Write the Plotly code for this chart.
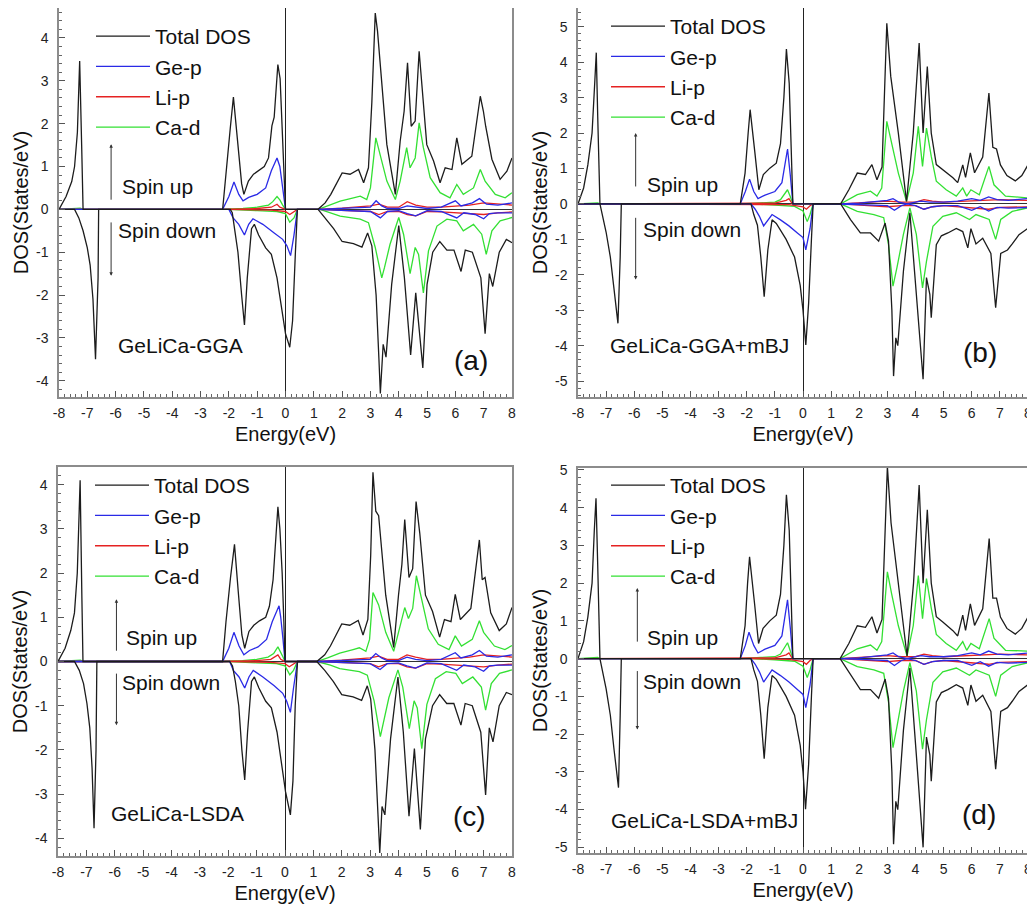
import plotly.graph_objects as go

# ---------------- DATA (energy eV, DOS states/eV) ----------------
# Panel (a) GeLiCa-GGA
a_total_up = [(-8.0,0),(-7.75,0.3),(-7.55,0.65),(-7.45,1.0),(-7.35,1.8),(-7.27,3.46),(-7.2,1.5),(-7.15,0),
 (-2.22,0),(-2.1,0.9),(-1.95,1.9),(-1.84,2.62),(-1.7,1.6),(-1.55,0.6),(-1.47,0.35),(-1.31,0.66),(-1.13,0.82),(-0.9,0.92),(-0.75,1.0),(-0.6,1.2),(-0.48,1.95),(-0.4,2.15),(-0.27,3.38),(-0.19,3.05),(-0.12,2.0),(-0.05,0.9),(0.0,0),
 (1.15,0),(1.4,0.15),(1.6,0.35),(1.8,0.6),(2.0,0.85),(2.28,0.82),(2.58,0.93),(2.76,0.62),(2.93,0.97),(3.05,2.5),(3.17,4.58),(3.25,4.16),(3.35,3.3),(3.58,1.51),(3.88,0.35),(4.05,1.59),(4.19,2.29),(4.31,3.42),(4.44,1.94),(4.58,2.06),(4.72,3.69),(4.81,2.91),(4.99,1.51),(5.23,1.13),(5.46,0.62),(5.64,0.97),(5.88,0.93),(6.05,1.67),(6.23,1.05),(6.58,1.24),(6.88,2.64),(6.99,2.29),(7.07,1.94),(7.29,1.17),(7.58,0.7),(7.82,0.89),(8.0,1.2)]
a_total_dn = [(-8.0,0),(-7.45,0),(-7.3,-0.2),(-7.15,-0.5),(-7.0,-0.9),(-6.9,-1.3),(-6.8,-2.1),(-6.71,-3.5),(-6.62,-1.6),(-6.6,0),
 (-1.95,0),(-1.88,-0.08),(-1.8,-0.45),(-1.68,-1.0),(-1.55,-2.0),(-1.45,-2.7),(-1.35,-1.6),(-1.2,-0.45),(-1.1,-0.35),(-0.95,-0.6),(-0.7,-0.9),(-0.5,-1.05),(-0.3,-1.6),(-0.15,-2.3),(0.0,-2.9),(0.15,-3.22),(0.25,-2.6),(0.35,-1.0),(0.42,0),
 (1.15,0),(1.4,-0.2),(1.7,-0.45),(2.0,-0.75),(2.4,-0.8),(2.7,-0.88),(2.9,-0.55),(3.05,-0.85),(3.2,-2.0),(3.3,-3.5),(3.35,-4.3),(3.45,-3.15),(3.55,-3.45),(3.75,-1.75),(4.0,-0.38),(4.2,-1.6),(4.42,-3.4),(4.6,-1.95),(4.85,-3.7),(5.0,-1.75),(5.2,-1.0),(5.45,-0.75),(5.7,-0.95),(5.95,-0.95),(6.2,-1.45),(6.35,-0.95),(6.6,-1.0),(6.9,-1.6),(7.05,-2.9),(7.2,-1.5),(7.32,-1.8),(7.55,-1.0),(7.8,-0.7),(8.0,-0.78)]
a_gep_up = [(-8,0),(-2.22,0),(-2.0,0.3),(-1.82,0.64),(-1.65,0.35),(-1.5,0.2),(-1.3,0.28),(-1.0,0.35),(-0.7,0.5),(-0.5,0.9),(-0.3,1.2),(-0.2,1.0),(-0.1,0.5),(0.0,0),
 (1.15,0),(2.0,0.02),(3.0,0.05),(3.2,0.2),(3.4,0.08),(3.6,0.02),(4.0,0.02),(4.3,0.08),(4.6,0.05),(5.0,0.02),(5.5,0.05),(6.0,0.2),(6.2,0.08),(6.6,0.15),(6.85,0.25),(7.1,0.12),(7.5,0.1),(8.0,0.15)]
a_gep_dn = [(-8,0),(-2.0,0),(-1.85,-0.2),(-1.65,-0.35),(-1.45,-0.6),(-1.3,-0.35),(-1.15,-0.22),(-0.8,-0.35),(-0.4,-0.55),(-0.1,-0.7),(0.05,-0.85),(0.18,-1.08),(0.3,-0.6),(0.42,0),
 (1.15,0),(2.0,-0.02),(3.0,-0.05),(3.35,-0.2),(3.6,-0.05),(4.0,-0.03),(4.3,-0.1),(4.6,-0.15),(5.0,-0.03),(5.5,-0.05),(6.05,-0.2),(6.3,-0.08),(6.7,-0.12),(7.0,-0.22),(7.2,-0.1),(7.5,-0.08),(8.0,-0.08)]
a_lip_up = [(-8,0),(-2.2,0),(-1.0,0.02),(-0.5,0.05),(-0.3,0.12),(-0.2,0.05),(0.0,0),
 (1.15,0),(2.0,0.03),(3.0,0.08),(3.3,0.12),(3.6,0.05),(4.0,0.05),(4.3,0.18),(4.6,0.1),(5.0,0.05),(5.5,0.05),(6.0,0.08),(6.5,0.1),(7.0,0.15),(7.5,0.12),(8.0,0.1)]
a_lip_dn = [(-8,0),(-2.0,0),(-0.5,-0.02),(0.0,-0.05),(0.15,-0.12),(0.3,-0.05),(0.42,0),
 (1.15,0),(2.0,-0.03),(3.0,-0.05),(3.3,-0.12),(3.6,-0.05),(4.0,-0.05),(4.3,-0.12),(4.6,-0.15),(5.0,-0.05),(5.5,-0.06),(6.0,-0.08),(6.5,-0.1),(7.0,-0.12),(7.5,-0.08),(8.0,-0.06)]
a_cad_up = [(-8,0),(-7.6,0.02),(-7.25,0.03),(-7.15,0),(-2.2,0),(-1.5,0.02),(-1.0,0.05),(-0.6,0.1),(-0.45,0.18),(-0.3,0.3),(-0.2,0.22),(-0.1,0.1),(0.0,0),
 (1.16,0),(1.5,0.08),(1.93,0.19),(2.4,0.27),(2.64,0.31),(2.87,0.23),(3.0,0.5),(3.19,1.67),(3.35,1.28),(3.58,0.66),(3.88,0.23),(4.05,0.66),(4.28,1.44),(4.40,0.97),(4.58,1.2),(4.72,2.02),(4.87,1.44),(5.11,0.74),(5.46,0.39),(5.81,0.27),(6.05,0.58),(6.28,0.35),(6.64,0.5),(6.88,0.93),(7.05,0.66),(7.41,0.35),(7.76,0.27),(8.0,0.39)]
a_cad_dn = [(-8,0),(-2.0,0),(-1.0,-0.03),(-0.3,-0.05),(0.0,-0.1),(0.15,-0.3),(0.3,-0.2),(0.42,0),
 (1.22,0),(1.6,-0.08),(1.93,-0.16),(2.64,-0.23),(2.93,-0.31),(3.17,-0.89),(3.4,-1.6),(3.5,-1.35),(3.69,-0.82),(4.0,-0.19),(4.17,-0.58),(4.4,-1.5),(4.58,-0.89),(4.7,-1.05),(4.87,-1.95),(5.05,-0.97),(5.35,-0.39),(5.7,-0.23),(6.05,-0.27),(6.28,-0.5),(6.64,-0.35),(6.93,-0.58),(7.09,-1.05),(7.29,-0.5),(7.58,-0.27),(8.0,-0.19)]

# Panel (b) GeLiCa-GGA+mBJ
b_total_up = [(-8,0),(-7.8,0.45),(-7.65,1.1),(-7.5,2.0),(-7.4,3.5),(-7.35,4.27),(-7.3,2.5),(-7.22,0),
 (-2.23,0),(-2.06,0.87),(-1.95,2.0),(-1.88,2.66),(-1.71,1.44),(-1.57,0.4),(-1.41,0.83),(-1.18,1.01),(-0.95,1.15),(-0.8,1.7),(-0.68,3.0),(-0.59,4.37),(-0.49,3.4),(-0.42,1.5),(-0.36,0),
 (1.34,0),(1.63,0.4),(1.93,0.87),(2.22,0.83),(2.45,1.11),(2.63,0.68),(2.81,1.04),(2.98,5.1),(3.12,3.6),(3.39,2.0),(3.68,0.07),(3.92,2.0),(4.13,4.54),(4.27,2.0),(4.42,3.88),(4.56,2.0),(4.74,1.11),(4.97,0.97),(5.33,0.74),(5.5,0.6),(5.68,1.1),(5.78,0.75),(5.95,1.44),(6.1,0.88),(6.39,1.32),(6.61,3.13),(6.75,1.6),(6.88,1.55),(7.02,1.1),(7.25,0.8),(7.55,0.65),(7.78,0.8),(8.0,1.1)]
b_total_dn = [(-8,0),(-7.22,0),(-7.0,-0.8),(-6.85,-1.5),(-6.72,-2.4),(-6.58,-3.37),(-6.5,-1.5),(-6.46,0),
 (-1.85,0),(-1.75,-0.3),(-1.62,-0.6),(-1.5,-1.5),(-1.38,-2.62),(-1.25,-1.3),(-1.1,-0.45),(-0.95,-0.55),(-0.6,-1.0),(-0.3,-1.5),(-0.1,-2.3),(0.0,-3.0),(0.1,-3.98),(0.2,-2.8),(0.3,-1.0),(0.36,0),
 (1.34,0),(1.69,-0.44),(2.04,-0.82),(2.4,-0.82),(2.69,-1.05),(2.92,-0.54),(3.04,-1.05),(3.16,-3.0),(3.22,-4.86),(3.3,-3.78),(3.37,-4.0),(3.57,-1.9),(3.8,-0.25),(4.03,-2.55),(4.27,-4.95),(4.39,-2.08),(4.51,-2.55),(4.56,-3.21),(4.74,-1.15),(4.92,-0.9),(5.15,-0.82),(5.45,-0.69),(5.68,-0.78),(5.86,-1.24),(5.97,-0.7),(6.15,-1.13),(6.39,-0.97),(6.68,-1.4),(6.85,-2.93),(7.03,-1.4),(7.27,-1.3),(7.44,-1.13),(7.68,-0.87),(8.0,-0.69)]
b_gep_up = [(-8,0),(-2.23,0),(-2.05,0.35),(-1.9,0.7),(-1.75,0.35),(-1.6,0.15),(-1.35,0.25),(-1.0,0.35),(-0.75,0.6),(-0.55,1.55),(-0.45,0.8),(-0.36,0),
 (1.34,0),(2.0,0.02),(3.0,0.1),(3.2,0.15),(3.4,0.05),(3.7,0.0),(4.0,0.05),(4.2,0.08),(4.5,0.05),(5.0,0.05),(5.5,0.08),(6.0,0.15),(6.3,0.1),(6.6,0.2),(6.9,0.12),(7.3,0.1),(8.0,0.15)]
b_gep_dn = [(-8,0),(-1.85,0),(-1.7,-0.15),(-1.55,-0.35),(-1.4,-0.62),(-1.25,-0.45),(-1.1,-0.3),(-0.8,-0.45),(-0.5,-0.62),(-0.2,-0.82),(0.0,-0.95),(0.1,-1.3),(0.25,-0.7),(0.36,0),
 (1.34,0),(2.0,-0.02),(3.0,-0.05),(3.25,-0.18),(3.5,-0.05),(3.7,0.0),(4.0,-0.05),(4.3,-0.15),(4.6,-0.08),(5.0,-0.05),(5.5,-0.05),(6.0,-0.18),(6.3,-0.08),(6.6,-0.2),(6.9,-0.1),(7.3,-0.12),(8.0,-0.1)]
b_lip_up = [(-8,0),(-2.23,0),(-1.0,0.02),(-0.6,0.1),(-0.5,0.15),(-0.42,0.05),(-0.36,0),
 (1.34,0),(2.0,0.03),(3.0,0.08),(3.5,0.05),(4.0,0.05),(4.3,0.12),(4.6,0.08),(5.0,0.05),(6.0,0.08),(6.5,0.1),(7.0,0.12),(8.0,0.1)]
b_lip_dn = [(-8,0),(-1.85,0),(-0.5,-0.02),(0.0,-0.08),(0.12,-0.15),(0.25,-0.05),(0.36,0),
 (1.34,0),(2.0,-0.03),(3.0,-0.08),(3.5,-0.05),(4.0,-0.05),(4.3,-0.15),(4.6,-0.08),(5.0,-0.05),(6.0,-0.1),(6.6,-0.15),(7.0,-0.1),(8.0,-0.08)]
b_cad_up = [(-8,0),(-7.6,0.02),(-7.3,0.03),(-7.22,0),(-2.23,0),(-1.5,0.03),(-1.0,0.05),(-0.8,0.12),(-0.65,0.3),(-0.55,0.4),(-0.45,0.2),(-0.36,0),
 (1.34,0),(1.93,0.26),(2.4,0.36),(2.63,0.22),(2.8,0.45),(2.98,2.33),(3.15,1.72),(3.39,0.87),(3.68,0.07),(3.92,0.87),(4.1,2.19),(4.25,1.06),(4.39,2.14),(4.56,1.34),(4.74,0.64),(5.09,0.4),(5.45,0.22),(5.68,0.45),(5.82,0.22),(5.97,0.4),(6.27,0.26),(6.61,1.06),(6.79,0.54),(7.2,0.22),(8.0,0.17)]
b_cad_dn = [(-8,0),(-1.85,0),(-1.0,-0.03),(-0.3,-0.07),(0.0,-0.2),(0.15,-0.5),(0.25,-0.3),(0.36,0),
 (1.34,0),(1.93,-0.21),(2.52,-0.3),(2.87,-0.39),(3.04,-1.15),(3.2,-2.32),(3.34,-1.8),(3.57,-0.86),(3.8,-0.11),(4.03,-0.86),(4.25,-2.37),(4.39,-1.62),(4.62,-0.63),(4.97,-0.35),(5.45,-0.25),(5.92,-0.44),(6.15,-0.3),(6.62,-0.44),(6.85,-1.0),(7.03,-0.44),(7.44,-0.21),(8.0,-0.11)]

# Panel (c) GeLiCa-LSDA
c_total_up = [(-8.0,0),(-7.75,0.3),(-7.55,0.7),(-7.42,1.1),(-7.32,2.0),(-7.22,4.1),(-7.16,1.5),(-7.12,0),
 (-2.2,0),(-2.08,0.9),(-1.92,1.9),(-1.78,2.65),(-1.65,1.6),(-1.52,0.6),(-1.42,0.3),(-1.27,0.68),(-1.1,0.82),(-0.9,0.92),(-0.68,1.0),(-0.55,1.25),(-0.42,1.85),(-0.35,2.6),(-0.25,3.5),(-0.18,3.0),(-0.1,2.0),(-0.04,0.9),(0.0,0),
 (1.12,0),(1.4,0.15),(1.6,0.35),(1.8,0.6),(2.0,0.85),(2.28,0.82),(2.58,0.93),(2.75,0.6),(2.92,0.95),(3.02,2.4),(3.1,4.28),(3.2,3.4),(3.3,3.3),(3.55,1.5),(3.83,0.32),(4.0,1.5),(4.12,2.2),(4.22,3.21),(4.37,1.9),(4.5,2.1),(4.62,3.62),(4.75,2.9),(4.95,1.5),(5.2,1.13),(5.45,0.55),(5.62,0.95),(5.85,0.9),(6.0,1.52),(6.18,0.95),(6.55,1.2),(6.85,2.75),(6.95,1.85),(7.05,1.9),(7.25,1.1),(7.55,0.7),(7.8,0.85),(8.0,1.22)]
c_total_dn = [(-8.0,0),(-7.42,0),(-7.25,-0.2),(-7.1,-0.5),(-6.98,-0.95),(-6.88,-1.5),(-6.8,-2.4),(-6.73,-3.77),(-6.66,-2.0),(-6.63,0),
 (-1.95,0),(-1.85,-0.1),(-1.75,-0.45),(-1.63,-1.0),(-1.52,-2.0),(-1.42,-2.68),(-1.32,-1.6),(-1.18,-0.45),(-1.08,-0.35),(-0.92,-0.6),(-0.68,-0.9),(-0.48,-1.05),(-0.28,-1.6),(-0.12,-2.35),(0.02,-2.95),(0.19,-3.47),(0.28,-2.7),(0.36,-1.0),(0.44,0),
 (1.12,0),(1.4,-0.2),(1.7,-0.45),(2.0,-0.75),(2.4,-0.8),(2.7,-0.88),(2.9,-0.55),(3.02,-0.85),(3.17,-2.0),(3.28,-3.5),(3.34,-4.33),(3.42,-3.28),(3.52,-3.47),(3.72,-1.75),(3.98,-0.35),(4.17,-1.6),(4.37,-3.5),(4.56,-1.97),(4.77,-3.8),(4.95,-1.75),(5.2,-1.0),(5.45,-0.75),(5.7,-0.95),(5.95,-0.95),(6.2,-1.44),(6.35,-0.95),(6.6,-1.0),(6.9,-1.6),(7.07,-3.02),(7.2,-1.5),(7.33,-1.82),(7.55,-1.0),(7.8,-0.7),(8.0,-0.75)]
c_gep_up = [(-8,0),(-2.2,0),(-1.98,0.3),(-1.8,0.66),(-1.62,0.35),(-1.45,0.15),(-1.25,0.25),(-0.95,0.33),(-0.65,0.5),(-0.45,0.9),(-0.21,1.26),(-0.15,1.0),(-0.07,0.5),(0.0,0),
 (1.12,0),(2.0,0.02),(3.0,0.05),(3.2,0.18),(3.4,0.08),(3.6,0.02),(4.0,0.02),(4.3,0.1),(4.6,0.05),(5.0,0.02),(5.5,0.05),(6.0,0.2),(6.2,0.08),(6.6,0.15),(6.85,0.25),(7.1,0.12),(7.5,0.1),(8.0,0.15)]
c_gep_dn = [(-8,0),(-1.95,0),(-1.82,-0.2),(-1.62,-0.35),(-1.42,-0.6),(-1.27,-0.35),(-1.12,-0.2),(-0.78,-0.35),(-0.38,-0.55),(-0.08,-0.72),(0.06,-0.9),(0.19,-1.15),(0.3,-0.6),(0.44,0),
 (1.12,0),(2.0,-0.02),(3.0,-0.05),(3.35,-0.18),(3.6,-0.05),(4.0,-0.03),(4.3,-0.1),(4.6,-0.15),(5.0,-0.03),(5.5,-0.05),(6.05,-0.2),(6.3,-0.08),(6.7,-0.12),(7.0,-0.22),(7.2,-0.1),(7.5,-0.08),(8.0,-0.08)]
c_lip_up = [(-8,0),(-2.2,0),(-1.0,0.02),(-0.5,0.05),(-0.25,0.15),(-0.15,0.05),(0.0,0),
 (1.12,0),(2.0,0.03),(3.0,0.08),(3.3,0.12),(3.6,0.05),(4.0,0.05),(4.3,0.15),(4.6,0.1),(5.0,0.05),(5.5,0.05),(6.0,0.08),(6.5,0.1),(7.0,0.15),(7.5,0.12),(8.0,0.1)]
c_lip_dn = [(-8,0),(-1.95,0),(-0.5,-0.02),(0.0,-0.05),(0.15,-0.12),(0.3,-0.05),(0.44,0),
 (1.12,0),(2.0,-0.03),(3.0,-0.05),(3.3,-0.12),(3.6,-0.05),(4.0,-0.05),(4.3,-0.12),(4.6,-0.15),(5.0,-0.05),(5.5,-0.06),(6.0,-0.08),(6.5,-0.1),(7.0,-0.12),(7.5,-0.08),(8.0,-0.06)]
c_cad_up = [(-8,0),(-7.6,0.02),(-7.2,0.03),(-7.12,0),(-2.2,0),(-1.5,0.02),(-1.0,0.05),(-0.6,0.1),(-0.4,0.18),(-0.25,0.33),(-0.15,0.22),(-0.07,0.1),(0.0,0),
 (1.12,0),(1.5,0.08),(1.93,0.19),(2.4,0.27),(2.62,0.31),(2.85,0.23),(2.98,0.5),(3.1,1.56),(3.3,1.28),(3.55,0.66),(3.83,0.23),(4.0,0.66),(4.22,1.22),(4.35,0.97),(4.5,1.2),(4.63,1.94),(4.8,1.44),(5.05,0.74),(5.4,0.39),(5.78,0.27),(6.0,0.58),(6.22,0.35),(6.6,0.5),(6.85,0.92),(7.0,0.66),(7.38,0.35),(7.75,0.27),(8.0,0.36)]
c_cad_dn = [(-8,0),(-1.95,0),(-1.0,-0.03),(-0.3,-0.05),(0.0,-0.1),(0.17,-0.3),(0.3,-0.2),(0.44,0),
 (1.12,0),(1.6,-0.08),(1.93,-0.16),(2.62,-0.23),(2.9,-0.31),(3.14,-0.89),(3.36,-1.7),(3.47,-1.35),(3.66,-0.82),(3.98,-0.19),(4.15,-0.58),(4.38,-1.52),(4.55,-0.89),(4.66,-1.05),(4.82,-1.97),(5.0,-0.97),(5.3,-0.39),(5.68,-0.23),(6.02,-0.27),(6.25,-0.5),(6.62,-0.35),(6.92,-0.58),(7.07,-1.1),(7.27,-0.5),(7.56,-0.27),(8.0,-0.19)]

# Panel (d) GeLiCa-LSDA+mBJ
d_total_up = [(-8,0),(-7.8,0.45),(-7.65,1.1),(-7.5,2.0),(-7.42,3.4),(-7.36,4.25),(-7.3,2.5),(-7.22,0),
 (-2.23,0),(-2.06,0.87),(-1.97,2.0),(-1.9,2.7),(-1.72,1.44),(-1.58,0.4),(-1.42,0.8),(-1.18,1.0),(-0.95,1.15),(-0.8,1.7),(-0.68,3.0),(-0.59,4.34),(-0.49,3.4),(-0.42,1.5),(-0.36,0),
 (1.32,0),(1.63,0.4),(1.93,0.87),(2.22,0.83),(2.45,1.11),(2.63,0.68),(2.81,1.04),(3.0,5.09),(3.13,3.6),(3.4,2.0),(3.7,0.07),(3.93,2.0),(4.13,4.6),(4.27,2.0),(4.42,3.94),(4.56,2.0),(4.74,1.11),(4.97,0.97),(5.33,0.74),(5.5,0.6),(5.68,1.15),(5.78,0.75),(5.95,1.45),(6.1,0.88),(6.39,1.32),(6.62,3.18),(6.75,1.6),(6.88,1.6),(7.02,1.1),(7.25,0.8),(7.55,0.65),(7.78,0.8),(8.0,1.1)]
d_total_dn = [(-8,0),(-7.22,0),(-7.0,-0.8),(-6.85,-1.5),(-6.72,-2.4),(-6.56,-3.42),(-6.5,-1.5),(-6.46,0),
 (-1.85,0),(-1.75,-0.3),(-1.62,-0.6),(-1.5,-1.5),(-1.38,-2.65),(-1.25,-1.3),(-1.1,-0.45),(-0.95,-0.55),(-0.6,-1.0),(-0.3,-1.5),(-0.1,-2.3),(0.0,-3.0),(0.09,-3.99),(0.2,-2.8),(0.3,-1.0),(0.36,0),
 (1.32,0),(1.69,-0.44),(2.04,-0.82),(2.4,-0.82),(2.69,-1.05),(2.92,-0.54),(3.04,-1.05),(3.16,-3.0),(3.22,-4.92),(3.3,-3.78),(3.37,-4.0),(3.57,-1.9),(3.8,-0.25),(4.03,-2.55),(4.27,-5.0),(4.39,-2.08),(4.51,-2.55),(4.56,-3.25),(4.74,-1.15),(4.92,-0.9),(5.15,-0.82),(5.45,-0.69),(5.68,-0.78),(5.86,-1.24),(5.97,-0.7),(6.15,-1.13),(6.39,-0.97),(6.68,-1.4),(6.85,-2.93),(7.03,-1.4),(7.27,-1.3),(7.44,-1.13),(7.68,-0.87),(8.0,-0.69)]
d_gep_up = [(-8,0),(-2.23,0),(-2.05,0.35),(-1.92,0.7),(-1.75,0.35),(-1.6,0.15),(-1.35,0.25),(-1.0,0.35),(-0.75,0.6),(-0.55,1.56),(-0.45,0.8),(-0.36,0),
 (1.32,0),(2.0,0.02),(3.0,0.1),(3.2,0.15),(3.4,0.05),(3.7,0.0),(4.0,0.05),(4.2,0.08),(4.5,0.05),(5.0,0.05),(5.5,0.08),(6.0,0.15),(6.3,0.1),(6.6,0.2),(6.9,0.12),(7.3,0.1),(8.0,0.15)]
d_gep_dn = [(-8,0),(-1.85,0),(-1.7,-0.15),(-1.55,-0.35),(-1.4,-0.62),(-1.25,-0.45),(-1.1,-0.3),(-0.8,-0.45),(-0.5,-0.62),(-0.2,-0.82),(0.0,-0.95),(0.1,-1.3),(0.25,-0.7),(0.36,0),
 (1.32,0),(2.0,-0.02),(3.0,-0.05),(3.25,-0.18),(3.5,-0.05),(3.7,0.0),(4.0,-0.05),(4.3,-0.15),(4.6,-0.08),(5.0,-0.05),(5.5,-0.05),(6.0,-0.18),(6.3,-0.08),(6.6,-0.2),(6.9,-0.1),(7.3,-0.12),(8.0,-0.1)]
d_lip_up = [(-8,0),(-2.23,0),(-1.0,0.02),(-0.6,0.1),(-0.5,0.15),(-0.42,0.05),(-0.36,0),
 (1.32,0),(2.0,0.03),(3.0,0.08),(3.5,0.05),(4.0,0.05),(4.3,0.12),(4.6,0.08),(5.0,0.05),(6.0,0.08),(6.5,0.1),(7.0,0.12),(8.0,0.1)]
d_lip_dn = [(-8,0),(-1.85,0),(-0.5,-0.02),(0.0,-0.08),(0.12,-0.15),(0.25,-0.05),(0.36,0),
 (1.32,0),(2.0,-0.03),(3.0,-0.08),(3.5,-0.05),(4.0,-0.05),(4.3,-0.15),(4.6,-0.08),(5.0,-0.05),(6.0,-0.1),(6.6,-0.15),(7.0,-0.1),(8.0,-0.08)]
d_cad_up = [(-8,0),(-7.6,0.02),(-7.3,0.03),(-7.22,0),(-2.23,0),(-1.5,0.03),(-1.0,0.05),(-0.8,0.12),(-0.65,0.3),(-0.55,0.42),(-0.45,0.2),(-0.36,0),
 (1.32,0),(1.93,0.26),(2.4,0.36),(2.63,0.22),(2.8,0.45),(3.0,2.3),(3.15,1.72),(3.39,0.87),(3.7,0.07),(3.92,0.87),(4.1,2.2),(4.25,1.06),(4.39,2.12),(4.56,1.34),(4.74,0.64),(5.09,0.4),(5.45,0.22),(5.68,0.45),(5.82,0.22),(5.97,0.4),(6.27,0.26),(6.62,1.06),(6.79,0.54),(7.2,0.22),(8.0,0.2)]
d_cad_dn = [(-8,0),(-1.85,0),(-1.0,-0.03),(-0.3,-0.07),(0.0,-0.2),(0.15,-0.5),(0.25,-0.3),(0.36,0),
 (1.32,0),(1.93,-0.21),(2.52,-0.3),(2.87,-0.39),(3.04,-1.15),(3.2,-2.36),(3.34,-1.8),(3.57,-0.86),(3.8,-0.11),(4.03,-0.86),(4.25,-2.4),(4.39,-1.62),(4.62,-0.63),(4.97,-0.35),(5.45,-0.25),(5.92,-0.44),(6.15,-0.3),(6.62,-0.44),(6.85,-1.0),(7.03,-0.44),(7.44,-0.21),(8.0,-0.11)]

series_names = ["Total DOS", "Ge-p", "Li-p", "Ca-d"]
series_colors = ["#1c1c1c", "#2a2ae6", "#e52222", "#33e033"]
panel_labels = ["(a)", "(b)", "(c)", "(d)"]
panel_methods = ["GeLiCa-GGA", "GeLiCa-GGA+mBJ", "GeLiCa-LSDA", "GeLiCa-LSDA+mBJ"]
x_ticks = list(range(-8, 9))
y_ticks_ac = list(range(-4, 5))
y_ticks_bd = list(range(-5, 6))

panel_data = [
    [(a_total_up, a_total_dn), (a_gep_up, a_gep_dn), (a_lip_up, a_lip_dn), (a_cad_up, a_cad_dn)],
    [(b_total_up, b_total_dn), (b_gep_up, b_gep_dn), (b_lip_up, b_lip_dn), (b_cad_up, b_cad_dn)],
    [(c_total_up, c_total_dn), (c_gep_up, c_gep_dn), (c_lip_up, c_lip_dn), (c_cad_up, c_cad_dn)],
    [(d_total_up, d_total_dn), (d_gep_up, d_gep_dn), (d_lip_up, d_lip_dn), (d_cad_up, d_cad_dn)],
]

# ---------------- LAYOUT GEOMETRY ----------------
PAGE_W, PAGE_H = 1035, 918
OFF = 8  # default page body margin
W, H = PAGE_W - OFF, PAGE_H - OFF
FONT = "Liberation Sans, Arial, sans-serif"
# pixel boxes of each panel in page pixels: (left, right, top, bottom)
boxes = [(59, 512, 8, 397), (578, 1028, 8, 397), (58, 512, 467, 856), (578, 1028, 468, 853)]
y_ranges = [(-4.38, 4.7), (-5.45, 5.53), (-4.4, 4.4), (-5.15, 5.05)]
legend_pos = [(91, 16), (606, 6), (90, 465), (606, 465)]
# annotation placement in data coords
spin_up_arrow = [(-6.16, 0.19, 1.52), (-5.95, 0.45, 2.0), (-5.94, 0.21, 1.41), (-5.89, 0.41, 1.87)]
spin_dn_arrow = [(-6.16, -0.27, -1.55), (-5.95, -0.35, -2.13), (-5.94, -0.24, -1.44), (-5.89, -0.29, -1.88)]
spin_up_txt = [(-5.84, 0.54), (-5.63, 0.54), (-5.69, 0.55), (-5.61, 0.55)]
spin_dn_txt = [(-5.99, -0.5), (-5.77, -0.72), (-5.8, -0.47), (-5.75, -0.6)]
method_txt = [(-5.99, -3.18), (-6.95, -4.01), (-6.2, -3.43), (-6.9, -4.3)]
label_txt = [(6.55, -3.53), (6.3, -4.18), (6.51, -3.5), (6.26, -4.13)]


def clamp(v):
    return min(1.0, max(0.0, v))


fig = go.Figure()
layout = dict(width=W, height=H, margin=dict(l=0, r=0, t=0, b=0, pad=0, autoexpand=False),
              paper_bgcolor="white", plot_bgcolor="white",
              font=dict(family=FONT, color="#111"), showlegend=True)
annotations = []

for p in range(4):
    sfx = "" if p == 0 else str(p + 1)
    xa, ya = "x" + sfx, "y" + sfx
    lg = "legend" + sfx
    l, r, t, b = boxes[p]
    yt = y_ticks_ac if p in (0, 2) else y_ticks_bd
    layout["xaxis" + sfx] = dict(
        domain=[clamp((l - OFF) / W), clamp((r - OFF) / W)], anchor=ya, range=[-8, 8], automargin=False,
        tickvals=x_ticks, ticktext=[str(v) for v in x_ticks],
        ticks="inside", ticklen=6, tickwidth=1, tickcolor="#555",
        minor=dict(dtick=0.2, ticks="inside", ticklen=3, tickcolor="#666"),
        showline=True, linecolor="#8c8c8c", linewidth=1.5, mirror=True,
        showgrid=False, zeroline=True, zerolinecolor="#222", zerolinewidth=1,
        tickfont=dict(size=14, color="#222"), ticklabelstandoff=2,
        title=dict(text="Energy(eV)", font=dict(size=20, color="#111"), standoff=7))
    layout["yaxis" + sfx] = dict(
        domain=[clamp(1 - (b - OFF) / H), clamp(1 - (t - OFF) / H)], anchor=xa, range=list(y_ranges[p]),
        automargin=False, tickvals=yt, ticktext=[str(v) for v in yt],
        ticks="inside", ticklen=6, tickwidth=1, tickcolor="#555",
        minor=dict(dtick=0.2, ticks="inside", ticklen=3, tickcolor="#666"),
        showline=True, linecolor="#8c8c8c", linewidth=1.5, mirror=True,
        showgrid=False, zeroline=True, zerolinecolor="#333", zerolinewidth=1.2,
        tickfont=dict(size=14, color="#222"), ticklabelstandoff=6,
        title=dict(text="DOS(States/eV)", font=dict(size=20, color="#111"), standoff=2))
    lx, ly = legend_pos[p]
    layout[lg] = dict(x=(lx - OFF) / W, y=1 - (ly - OFF) / H, xanchor="left", yanchor="top",
                      bgcolor="rgba(0,0,0,0)", font=dict(size=21, family=FONT, color="#111"),
                      itemwidth=54, tracegroupgap=0, itemclick=False, traceorder="reversed")
    # draw partial DOS first, total DOS last (on top); legend order reversed back
    for k in (3, 2, 1, 0):
        up, dn = panel_data[p][k]
        for j, pts in enumerate((up, dn)):
            fig.add_trace(go.Scatter(
                x=[e for e, v in pts], y=[v for e, v in pts], mode="lines",
                name=series_names[k], legend=lg,
                showlegend=(j == 0),
                line=dict(color=series_colors[k], width=1.3),
                xaxis=xa, yaxis=ya))
    ax_, y0, y1 = spin_up_arrow[p]
    annotations.append(dict(x=ax_, y=y1, ax=ax_, ay=y0, xref=xa, yref=ya, axref=xa, ayref=ya,
                            text="", showarrow=True, arrowhead=2, arrowsize=0.7, arrowwidth=1, arrowcolor="#333"))
    ax_, y0, y1 = spin_dn_arrow[p]
    annotations.append(dict(x=ax_, y=y1, ax=ax_, ay=y0, xref=xa, yref=ya, axref=xa, ayref=ya,
                            text="", showarrow=True, arrowhead=2, arrowsize=0.7, arrowwidth=1, arrowcolor="#333"))
    for (tx, ty), txt, fs in ((spin_up_txt[p], "Spin up", 21), (spin_dn_txt[p], "Spin down", 21),
                              (method_txt[p], panel_methods[p], 21)):
        annotations.append(dict(x=tx, y=ty, xref=xa, yref=ya, text=txt, showarrow=False,
                                xanchor="left", yanchor="middle", font=dict(size=fs, color="#111")))
    tx, ty = label_txt[p]
    annotations.append(dict(x=tx, y=ty, xref=xa, yref=ya, text=panel_labels[p], showarrow=False,
                            xanchor="center", yanchor="middle", font=dict(size=28, color="#111")))

layout["annotations"] = annotations
fig.update_layout(**layout)
fig.write_html("out.html")
